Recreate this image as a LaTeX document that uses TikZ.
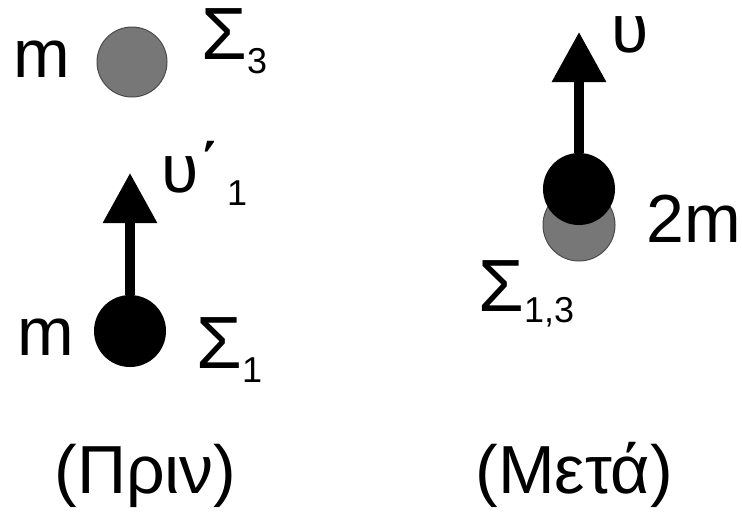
\documentclass[tikz,border=0pt]{standalone}
\usepackage{fontspec}
\setmainfont{Liberation Sans}
\usetikzlibrary{positioning, arrows.meta}
\definecolor{ballgray}{HTML}{777777}
\definecolor{rimgray}{HTML}{4A4A4A}
\newcommand{\sublbl}[2]{\raisebox{-#1}{\fontsize{18}{20}\selectfont #2}}

\begin{document}
\begin{tikzpicture}[
    x=0.5pt, y=-0.5pt,
    ball/.style={circle, inner sep=0pt, minimum size=36pt},
    blackball/.style={ball, fill=black},
    grayball/.style={ball, fill=ballgray, draw=rimgray, line width=0.5pt},
    vec/.style={-{Triangle[length=25pt, width=26pt]}, line width=4.75pt},
    lbl/.style={inner sep=0pt, anchor=base west, font=\fontsize{34}{40}\selectfont},
    siglbl/.style={lbl, font=\fontsize{37}{42}\selectfont}
  ]
    \useasboundingbox (0,0) rectangle (742,515);

    % before the collision
    \node[grayball, minimum size=35pt] (s3) at (132,62) {};
    \node[blackball] (s1) at (130,331) {};
    \coordinate (u1tip) at (130,173);
    \draw[vec] (s1) -- (u1tip);

    \node[lbl] (m3) at (13,77) {m};
    \node[siglbl] (sig3) at (201,59) {Σ\sublbl{7pt}{3}};
    \node[lbl] (u1) at (161,192) {υ΄\hspace{3pt}\sublbl{6.5pt}{1}};
    \node[lbl] (m1) at (17,355) {m};
    \node[siglbl] (sig1) at (196,368) {Σ\sublbl{7pt}{1}};

    % after the collision
    \node[grayball] (s13) at (579,225) {};
    \node[blackball] (s13b) at (579,189) {};
    \coordinate (utip) at (579,32);
    \draw[vec] (s13b) -- (utip);

    \node[lbl] (u) at (611,52) {υ};
    \node[lbl] (m2) at (646,242) {2m};
    \node[siglbl] (sig13) at (478,311) {Σ\sublbl{5.5pt}{1,3}};

    % captions
    \node[lbl] (before) at (54,493) {(Πριν)};
    \node[lbl] (after) at (475,493) {(Μετά)};
  \end{tikzpicture}
\end{document}
